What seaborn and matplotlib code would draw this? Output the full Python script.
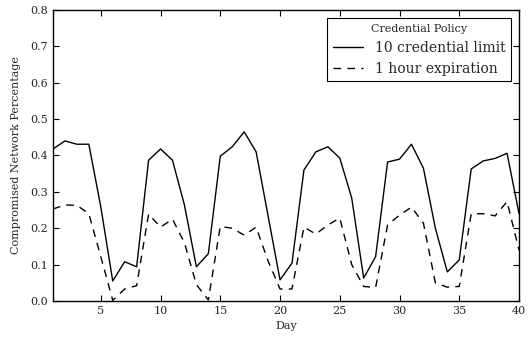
import numpy as np
import pandas as pd
import matplotlib
matplotlib.use("Agg")
import matplotlib.pyplot as plt
import seaborn as sns

days = list(range(1, 41))
limit_10 = [0.418, 0.440, 0.431, 0.431, 0.259, 0.055, 0.108, 0.094, 0.387, 0.418,
            0.387, 0.264, 0.094, 0.130, 0.398, 0.424, 0.465, 0.410, 0.234, 0.058,
            0.104, 0.360, 0.410, 0.424, 0.393, 0.283, 0.063, 0.122, 0.382, 0.390,
            0.431, 0.365, 0.200, 0.080, 0.113, 0.363, 0.385, 0.392, 0.406, 0.240]
expire_1h = [0.253, 0.264, 0.263, 0.240, 0.122, 0.002, 0.033, 0.042, 0.239, 0.203,
             0.225, 0.160, 0.045, 0.003, 0.205, 0.200, 0.181, 0.203, 0.110, 0.033,
             0.033, 0.203, 0.184, 0.209, 0.228, 0.100, 0.040, 0.037, 0.209, 0.236,
             0.258, 0.214, 0.050, 0.038, 0.040, 0.240, 0.240, 0.234, 0.273, 0.140]
series_names = ["10 credential limit", "1 hour expiration"]
x_ticks = [5, 10, 15, 20, 25, 30, 35, 40]
y_ticks = [0.0, 0.1, 0.2, 0.3, 0.4, 0.5, 0.6, 0.7, 0.8]

df = pd.DataFrame({
    "Day": days * 2,
    "value": limit_10 + expire_1h,
    "Credential Policy": [series_names[0]] * len(days) + [series_names[1]] * len(days),
})

sns.set_style("ticks")
plt.rcParams["font.family"] = ["DejaVu Serif"]
plt.rcParams["axes.edgecolor"] = "black"
plt.rcParams["axes.linewidth"] = 1.0

fig = plt.figure(figsize=(5.32, 3.38), dpi=100)
ax = fig.add_axes([0.0996, 0.1095, 0.8760, 0.8609])

sns.lineplot(data=df, x="Day", y="value", hue="Credential Policy",
             style="Credential Policy",
             palette={series_names[0]: "black", series_names[1]: "black"},
             dashes={series_names[0]: "", series_names[1]: (5.5, 4.5)},
             linewidth=1.0, ax=ax, legend=True)

ax.set_xlim(1, 40)
ax.set_ylim(0, 0.8)
ax.set_xticks(x_ticks)
ax.set_yticks(y_ticks)
ax.set_yticklabels([f"{v:.1f}" for v in y_ticks])
ax.tick_params(axis="both", which="both", labelsize=8, length=4, width=0.8,
               color="black", top=True, right=True, direction="in")
ax.set_xlabel("Day", fontsize=8)
ax.set_ylabel("Compromised Network Percentage", fontsize=8, labelpad=7)

leg = ax.legend(title="Credential Policy", loc="upper right", fontsize=10,
                title_fontsize=8, frameon=True, fancybox=False,
                edgecolor="black", handlelength=2.2, borderaxespad=0.6)
leg.get_frame().set_linewidth(0.8)
leg.get_frame().set_alpha(1)

fig.savefig("out.png", dpi=100, facecolor="white")
